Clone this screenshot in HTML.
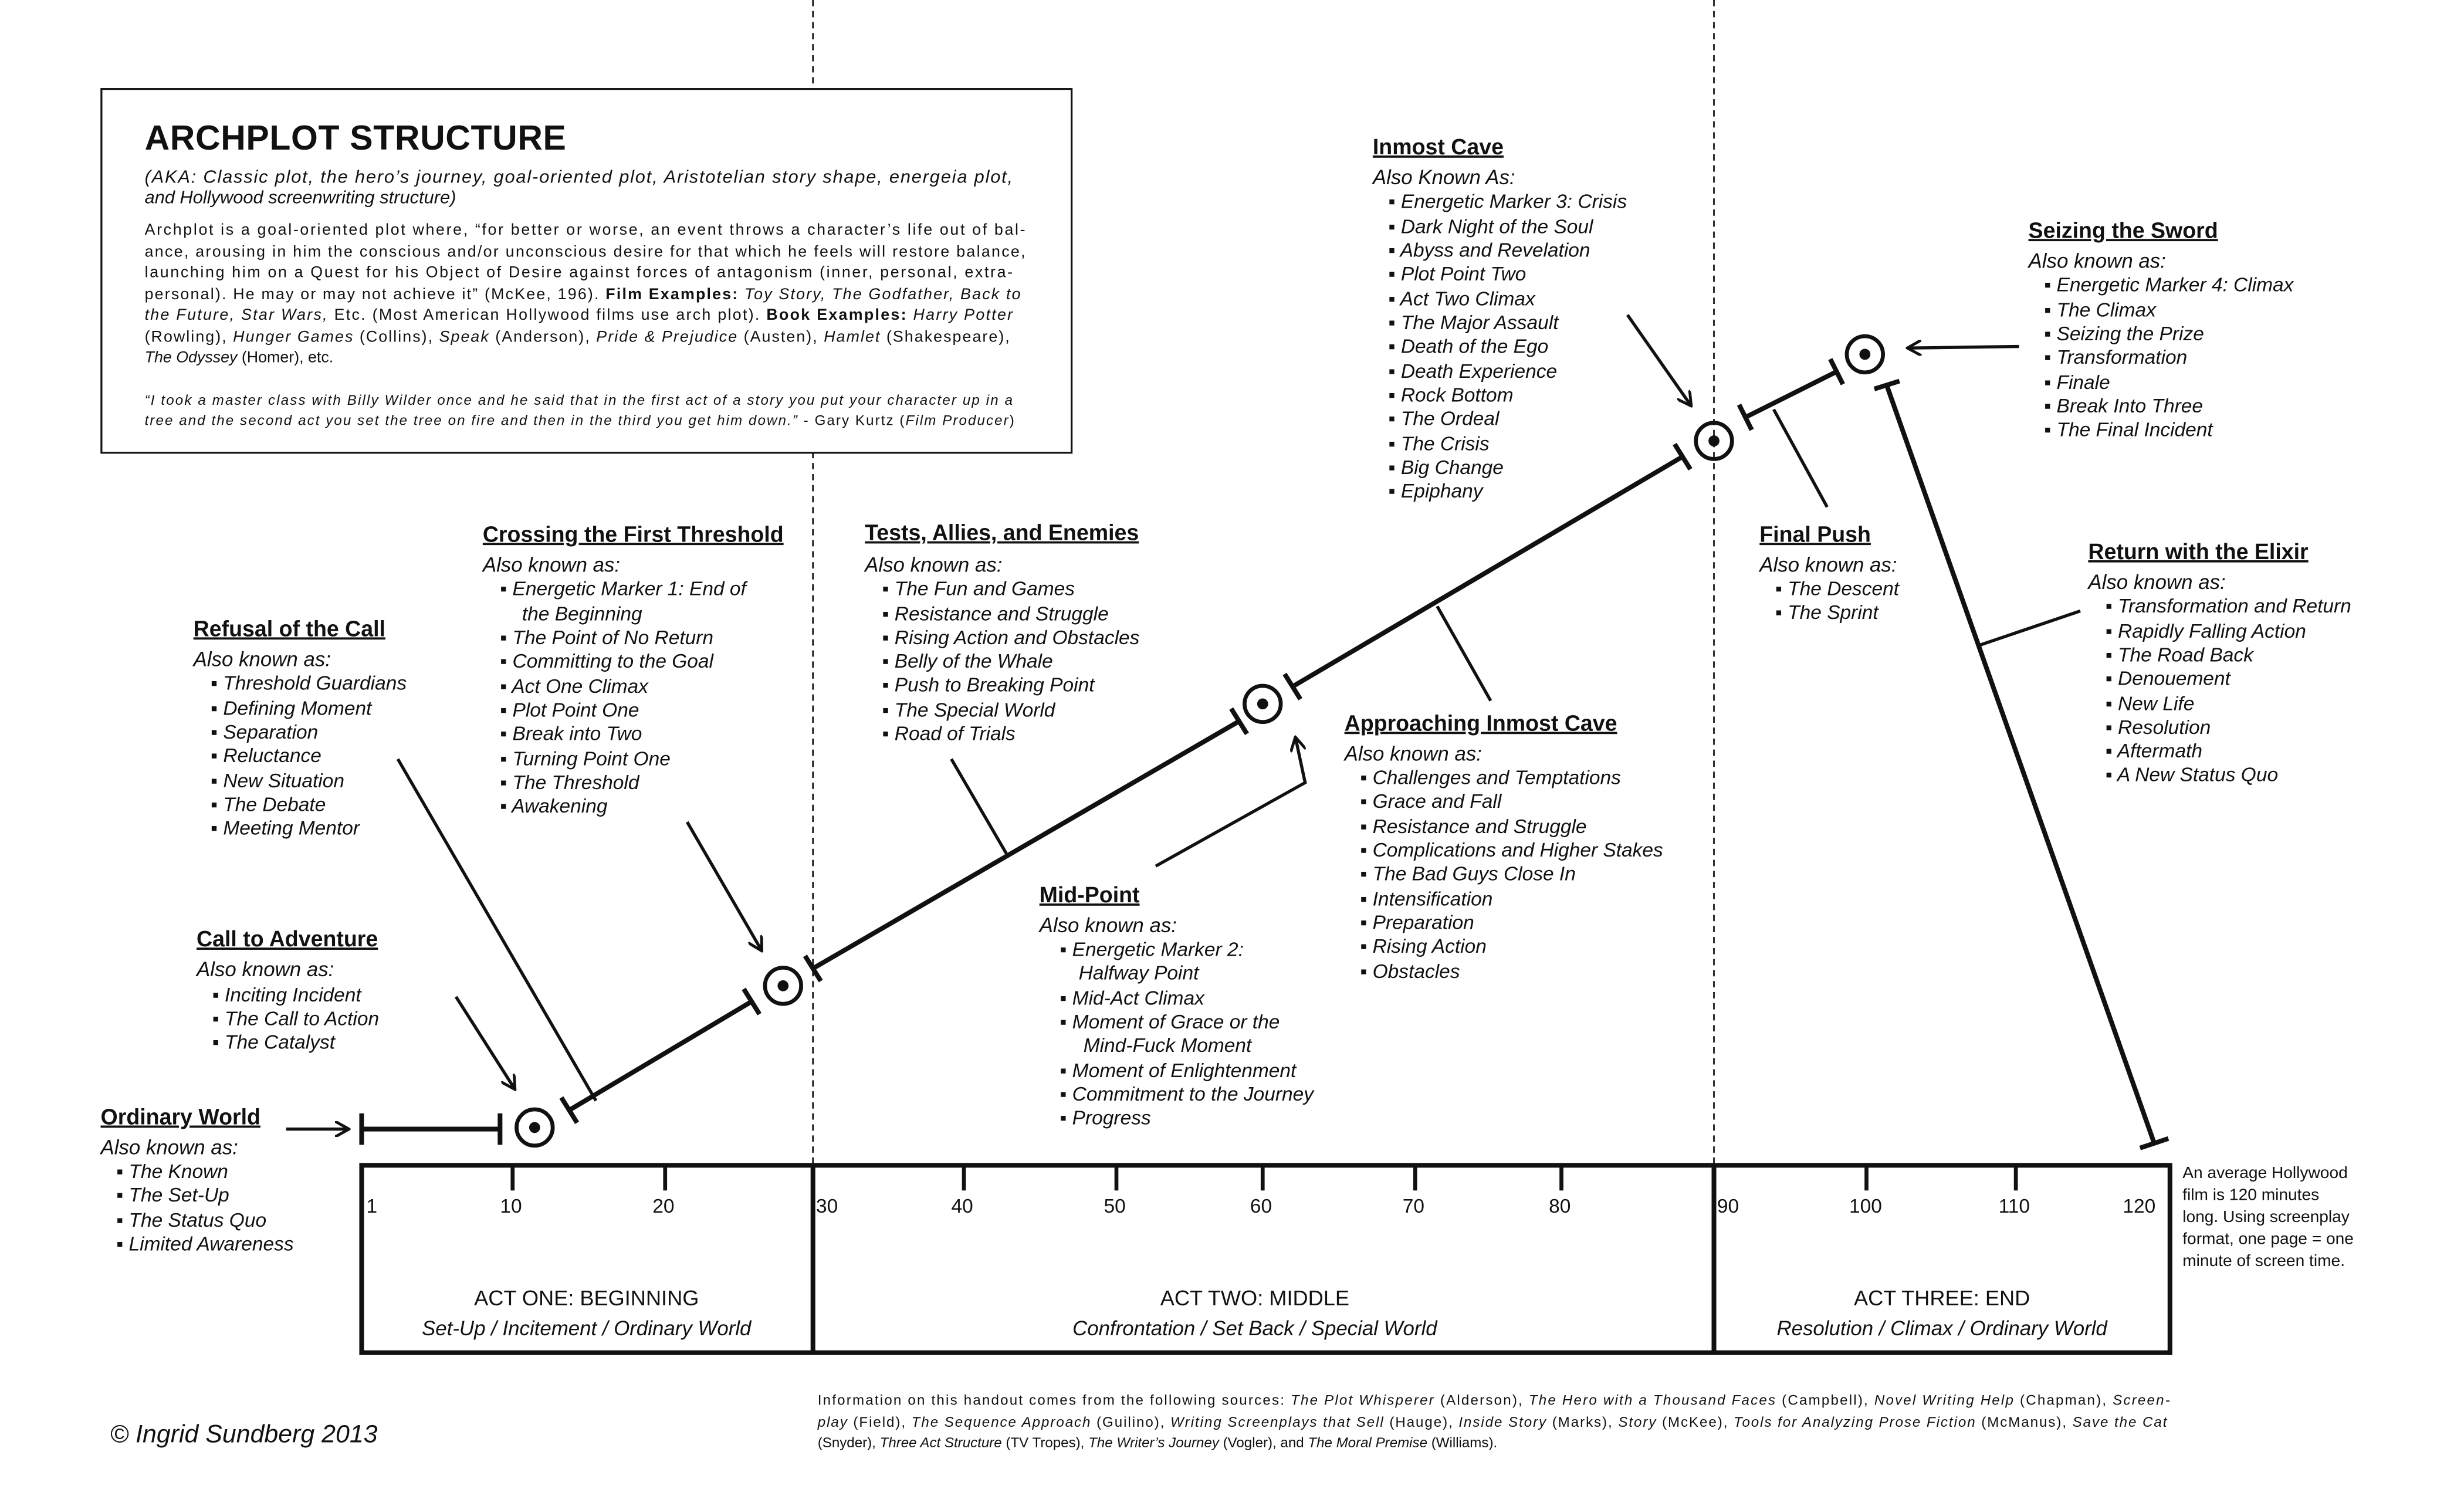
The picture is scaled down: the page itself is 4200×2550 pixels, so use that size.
<!DOCTYPE html>
<html><head><meta charset="utf-8"><style>
html,body{margin:0;padding:0;background:#fff;}
svg{display:block;}
text{font-family:"Liberation Sans",sans-serif;fill:#111;}
.h{font-weight:bold;font-size:14px;text-decoration:underline;}
.a{font-style:italic;font-size:13px;}
.i{font-style:italic;font-size:12.5px;}
.b{font-size:10px;}
.t{font-size:12.5px;}
</style></head><body>
<svg width="4200" height="2550" viewBox="0 0 1567 950" preserveAspectRatio="none" xmlns="http://www.w3.org/2000/svg">
<defs><marker id="ar" markerWidth="10" markerHeight="10" refX="8" refY="5" orient="auto" markerUnits="userSpaceOnUse"><path d="M0,0 L9,5 L0,10" fill="none" stroke="#111" stroke-width="1.8"/></marker></defs>
<rect width="1567" height="950" fill="#fff"/>
<line x1="517" y1="0" x2="517" y2="740" stroke="#111" stroke-width="1" stroke-dasharray="4,3"/>
<line x1="1090" y1="0" x2="1090" y2="740" stroke="#111" stroke-width="1" stroke-dasharray="4,3"/>
<rect x="64.5" y="56.5" width="617" height="231" fill="#fff" stroke="#111" stroke-width="1.2"/>
<text x="92" y="95" style="font-weight:bold;font-size:22px" textLength="268">ARCHPLOT STRUCTURE</text>
<g style="font-style:italic;font-size:11.5px">
<text x="92" y="116" textLength="552">(AKA: Classic plot, the hero’s journey, goal-oriented plot, Aristotelian story shape, energeia plot,</text>
<text x="92" y="129">and Hollywood screenwriting structure)</text></g>
<g class="b">
<text x="92" y="149" textLength="560">Archplot is a goal-oriented plot where, “for better or worse, an event throws a character’s life out of bal-</text>
<text x="92" y="163" textLength="560">ance, arousing in him the conscious and/or unconscious desire for that which he feels will restore balance,</text>
<text x="92" y="176" textLength="552">launching him on a Quest for his Object of Desire against forces of antagonism (inner, personal, extra-</text>
<text x="92" y="190" textLength="557">personal). He may or may not achieve it” (McKee, 196). <tspan font-weight="bold">Film Examples:</tspan> <tspan font-style="italic">Toy Story, The Godfather, Back to</tspan></text>
<text x="92" y="203" textLength="552"><tspan font-style="italic">the Future, Star Wars,</tspan> Etc. (Most American Hollywood films use arch plot). <tspan font-weight="bold">Book Examples:</tspan> <tspan font-style="italic">Harry Potter</tspan></text>
<text x="92" y="217" textLength="550">(Rowling), <tspan font-style="italic">Hunger Games</tspan> (Collins), <tspan font-style="italic">Speak</tspan> (Anderson), <tspan font-style="italic">Pride &amp; Prejudice</tspan> (Austen), <tspan font-style="italic">Hamlet</tspan> (Shakespeare),</text>
<text x="92" y="230"><tspan font-style="italic">The Odyssey</tspan> (Homer),  etc.</text></g>
<g style="font-size:9px">
<text x="92" y="257" textLength="552" font-style="italic">“I took a master class with Billy Wilder once and he said that in the first act of a story you put your character up in a</text>
<text x="92" y="270" textLength="553"><tspan font-style="italic">tree and the second act you set the tree on fire and then in the third you get him down.”</tspan> - Gary Kurtz (<tspan font-style="italic">Film Producer</tspan>)</text></g>

<g stroke="#111" fill="none">
<rect x="230" y="740" width="1150" height="119" stroke-width="3"/>
<line x1="517" y1="740" x2="517" y2="859" stroke-width="3"/>
<line x1="1090" y1="740" x2="1090" y2="859" stroke-width="3"/>
<g stroke-width="2.5">
<line x1="326" y1="740" x2="326" y2="756"/><line x1="423" y1="740" x2="423" y2="756"/>
<line x1="613" y1="740" x2="613" y2="756"/><line x1="710" y1="740" x2="710" y2="756"/>
<line x1="803" y1="740" x2="803" y2="756"/><line x1="900" y1="740" x2="900" y2="756"/>
<line x1="993" y1="740" x2="993" y2="756"/><line x1="1187" y1="740" x2="1187" y2="756"/>
<line x1="1282" y1="740" x2="1282" y2="756"/>
</g></g>
<g class="t">
<text x="233" y="770">1</text><text x="318" y="770">10</text><text x="415" y="770">20</text>
<text x="519" y="770">30</text><text x="605" y="770">40</text><text x="702" y="770">50</text>
<text x="795" y="770">60</text><text x="892" y="770">70</text><text x="985" y="770">80</text>
<text x="1092" y="770">90</text><text x="1176" y="770">100</text><text x="1271" y="770">110</text><text x="1350" y="770">120</text>
</g>
<g style="font-size:13.5px" text-anchor="middle">
<text x="373" y="829">ACT ONE: BEGINNING</text>
<text x="798" y="829">ACT TWO: MIDDLE</text>
<text x="1235" y="829">ACT THREE: END</text></g>
<g style="font-size:13px;font-style:italic" text-anchor="middle">
<text x="373" y="848">Set-Up / Incitement / Ordinary World</text>
<text x="798" y="848">Confrontation / Set Back / Special World</text>
<text x="1235" y="848">Resolution / Climax / Ordinary World</text></g>
<g style="font-size:10.5px">
<text x="1388" y="748">An average Hollywood</text><text x="1388" y="762">film is 120 minutes</text>
<text x="1388" y="776">long. Using screenplay</text><text x="1388" y="790">format, one page = one</text>
<text x="1388" y="804">minute of screen time.</text></g>

<g stroke="#111" stroke-width="3" fill="none">
<line x1="230" y1="717" x2="318" y2="717"/><line x1="230" y1="707" x2="230" y2="727"/><line x1="318" y1="707" x2="318" y2="727"/>
<line x1="362" y1="705" x2="478" y2="636"/><line x1="357" y1="697" x2="367" y2="713"/><line x1="473" y1="628" x2="483" y2="644"/>
<line x1="517" y1="615" x2="788" y2="458"/><line x1="512" y1="607" x2="522" y2="623"/><line x1="783" y1="450" x2="793" y2="466"/>
<line x1="822" y1="436" x2="1070" y2="290"/><line x1="817" y1="428" x2="827" y2="444"/><line x1="1065" y1="282" x2="1075" y2="298"/>
<line x1="1110" y1="265" x2="1168" y2="236"/><line x1="1106" y1="257" x2="1114" y2="273"/><line x1="1164" y1="228" x2="1172" y2="244"/>
<line x1="1200" y1="245" x2="1370" y2="726"/><line x1="1192" y1="247" x2="1208" y2="242"/><line x1="1361" y1="729" x2="1379" y2="723"/>
<circle cx="340" cy="716" r="11.5" stroke-width="2.5"/><circle cx="498" cy="626" r="11.5" stroke-width="2.5"/>
<circle cx="803" cy="447" r="11.5" stroke-width="2.5"/><circle cx="1090" cy="280" r="11.5" stroke-width="2.5"/>
<circle cx="1186" cy="225" r="11.5" stroke-width="2.5"/>
</g>
<g fill="#111"><circle cx="340" cy="716" r="3.5"/><circle cx="498" cy="626" r="3.5"/><circle cx="803" cy="447" r="3.5"/><circle cx="1090" cy="280" r="3.5"/><circle cx="1186" cy="225" r="3.5"/></g>
<g stroke="#111" stroke-width="2" fill="none">
<line x1="182" y1="717" x2="221" y2="717" marker-end="url(#ar)"/>
<line x1="290" y1="633" x2="327" y2="691" marker-end="url(#ar)"/>
<line x1="253" y1="482" x2="379" y2="699"/>
<line x1="437" y1="522" x2="484" y2="603" marker-end="url(#ar)"/>
<line x1="605" y1="482" x2="640" y2="542"/>
<polyline points="735,550 830,497 824,469" marker-end="url(#ar)"/>
<line x1="914" y1="385" x2="948" y2="445"/>
<line x1="1035" y1="200" x2="1075" y2="257" marker-end="url(#ar)"/>
<line x1="1128" y1="260" x2="1162" y2="322"/>
<line x1="1284" y1="220" x2="1214" y2="221" marker-end="url(#ar)"/>
<line x1="1258" y1="410" x2="1323" y2="388"/>
</g>

<g>
<text class="h" x="64" y="714">Ordinary World</text><text class="a" x="64" y="733">Also known as:</text>
<g class="i"><text x="74" y="748">▪  The Known</text><text x="74" y="763">▪  The Set-Up</text><text x="74" y="779">▪  The Status Quo</text><text x="74" y="794">▪  Limited Awareness</text></g>

<text class="h" x="125" y="601">Call to Adventure</text><text class="a" x="125" y="620">Also known as:</text>
<g class="i"><text x="135" y="636">▪  Inciting Incident</text><text x="135" y="651">▪  The Call to Action</text><text x="135" y="666">▪  The Catalyst</text></g>

<text class="h" x="123" y="404">Refusal of the Call</text><text class="a" x="123" y="423">Also known as:</text>
<g class="i"><text x="134" y="438">▪  Threshold Guardians</text><text x="134" y="454">▪  Defining Moment</text><text x="134" y="469">▪  Separation</text><text x="134" y="484">▪  Reluctance</text><text x="134" y="500">▪  New Situation</text><text x="134" y="515">▪  The Debate</text><text x="134" y="530">▪  Meeting Mentor</text></g>

<text class="h" x="307" y="344">Crossing the First Threshold</text><text class="a" x="307" y="363">Also known as:</text>
<g class="i"><text x="318" y="378">▪  Energetic Marker 1: End of</text><text x="332" y="394">the Beginning</text><text x="318" y="409">▪  The Point of No Return</text><text x="318" y="424">▪  Committing to the Goal</text><text x="318" y="440">▪  Act One Climax</text><text x="318" y="455">▪  Plot Point One</text><text x="318" y="470">▪  Break into Two</text><text x="318" y="486">▪  Turning Point One</text><text x="318" y="501">▪  The Threshold</text><text x="318" y="516">▪  Awakening</text></g>

<text class="h" x="550" y="343">Tests, Allies, and Enemies</text><text class="a" x="550" y="363">Also known as:</text>
<g class="i"><text x="561" y="378">▪  The Fun and Games</text><text x="561" y="394">▪  Resistance and Struggle</text><text x="561" y="409">▪  Rising Action and Obstacles</text><text x="561" y="424">▪  Belly of the Whale</text><text x="561" y="439">▪  Push to Breaking Point</text><text x="561" y="455">▪  The Special World</text><text x="561" y="470">▪  Road of Trials</text></g>

<text class="h" x="661" y="573">Mid-Point</text><text class="a" x="661" y="592">Also known as:</text>
<g class="i"><text x="674" y="607">▪  Energetic Marker 2:</text><text x="686" y="622">Halfway Point</text><text x="674" y="638">▪  Mid-Act Climax</text><text x="674" y="653">▪  Moment of Grace or the</text><text x="689" y="668">Mind-Fuck Moment</text><text x="674" y="684">▪  Moment of Enlightenment</text><text x="674" y="699">▪  Commitment to the Journey</text><text x="674" y="714">▪  Progress</text></g>

<text class="h" x="855" y="464">Approaching Inmost Cave</text><text class="a" x="855" y="483">Also known as:</text>
<g class="i"><text x="865" y="498">▪  Challenges and Temptations</text><text x="865" y="513">▪  Grace and Fall</text><text x="865" y="529">▪  Resistance and Struggle</text><text x="865" y="544">▪  Complications and Higher Stakes</text><text x="865" y="559">▪  The Bad Guys Close In</text><text x="865" y="575">▪  Intensification</text><text x="865" y="590">▪  Preparation</text><text x="865" y="605">▪  Rising Action</text><text x="865" y="621">▪  Obstacles</text></g>

<text class="h" x="873" y="98">Inmost Cave</text><text class="a" x="873" y="117">Also Known As:</text>
<g class="i"><text x="883" y="132">▪  Energetic Marker 3: Crisis</text><text x="883" y="148">▪  Dark Night of the Soul</text><text x="883" y="163">▪  Abyss and Revelation</text><text x="883" y="178">▪  Plot Point Two</text><text x="883" y="194">▪  Act Two Climax</text><text x="883" y="209">▪  The Major Assault</text><text x="883" y="224">▪  Death of the Ego</text><text x="883" y="240">▪  Death Experience</text><text x="883" y="255">▪  Rock Bottom</text><text x="883" y="270">▪  The Ordeal</text><text x="883" y="286">▪  The Crisis</text><text x="883" y="301">▪  Big Change</text><text x="883" y="316">▪  Epiphany</text></g>

<text class="h" x="1119" y="344">Final Push</text><text class="a" x="1119" y="363">Also known as:</text>
<g class="i"><text x="1129" y="378">▪  The Descent</text><text x="1129" y="393">▪  The Sprint</text></g>

<text class="h" x="1290" y="151">Seizing the Sword</text><text class="a" x="1290" y="170">Also known as:</text>
<g class="i"><text x="1300" y="185">▪  Energetic Marker 4: Climax</text><text x="1300" y="201">▪  The Climax</text><text x="1300" y="216">▪  Seizing the Prize</text><text x="1300" y="231">▪  Transformation</text><text x="1300" y="247">▪  Finale</text><text x="1300" y="262">▪  Break Into Three</text><text x="1300" y="277">▪  The Final Incident</text></g>

<text class="h" x="1328" y="355">Return with the Elixir</text><text class="a" x="1328" y="374">Also known as:</text>
<g class="i"><text x="1339" y="389">▪  Transformation and Return</text><text x="1339" y="405">▪  Rapidly Falling Action</text><text x="1339" y="420">▪  The Road Back</text><text x="1339" y="435">▪  Denouement</text><text x="1339" y="451">▪  New Life</text><text x="1339" y="466">▪  Resolution</text><text x="1339" y="481">▪  Aftermath</text><text x="1339" y="496">▪  A New Status Quo</text></g>
</g>

<text x="70" y="916" style="font-style:italic;font-size:16px">© Ingrid Sundberg 2013</text>
<g style="font-size:9px">
<text x="520" y="892" textLength="860">Information on this handout comes from the following sources: <tspan font-style="italic">The Plot Whisperer</tspan> (Alderson), <tspan font-style="italic">The Hero with a Thousand Faces</tspan> (Campbell), <tspan font-style="italic">Novel Writing Help</tspan> (Chapman), <tspan font-style="italic">Screen-</tspan></text>
<text x="520" y="906" textLength="858"><tspan font-style="italic">play</tspan> (Field), <tspan font-style="italic">The Sequence Approach</tspan> (Guilino), <tspan font-style="italic">Writing Screenplays that Sell</tspan> (Hauge), <tspan font-style="italic">Inside Story</tspan> (Marks), <tspan font-style="italic">Story</tspan> (McKee), <tspan font-style="italic">Tools for Analyzing Prose Fiction</tspan> (McManus), <tspan font-style="italic">Save the Cat</tspan></text>
<text x="520" y="919">(Snyder), <tspan font-style="italic">Three Act Structure</tspan> (TV Tropes), <tspan font-style="italic">The Writer’s Journey</tspan> (Vogler), and <tspan font-style="italic">The Moral Premise</tspan> (Williams).</text></g>
</svg>
</body></html>
